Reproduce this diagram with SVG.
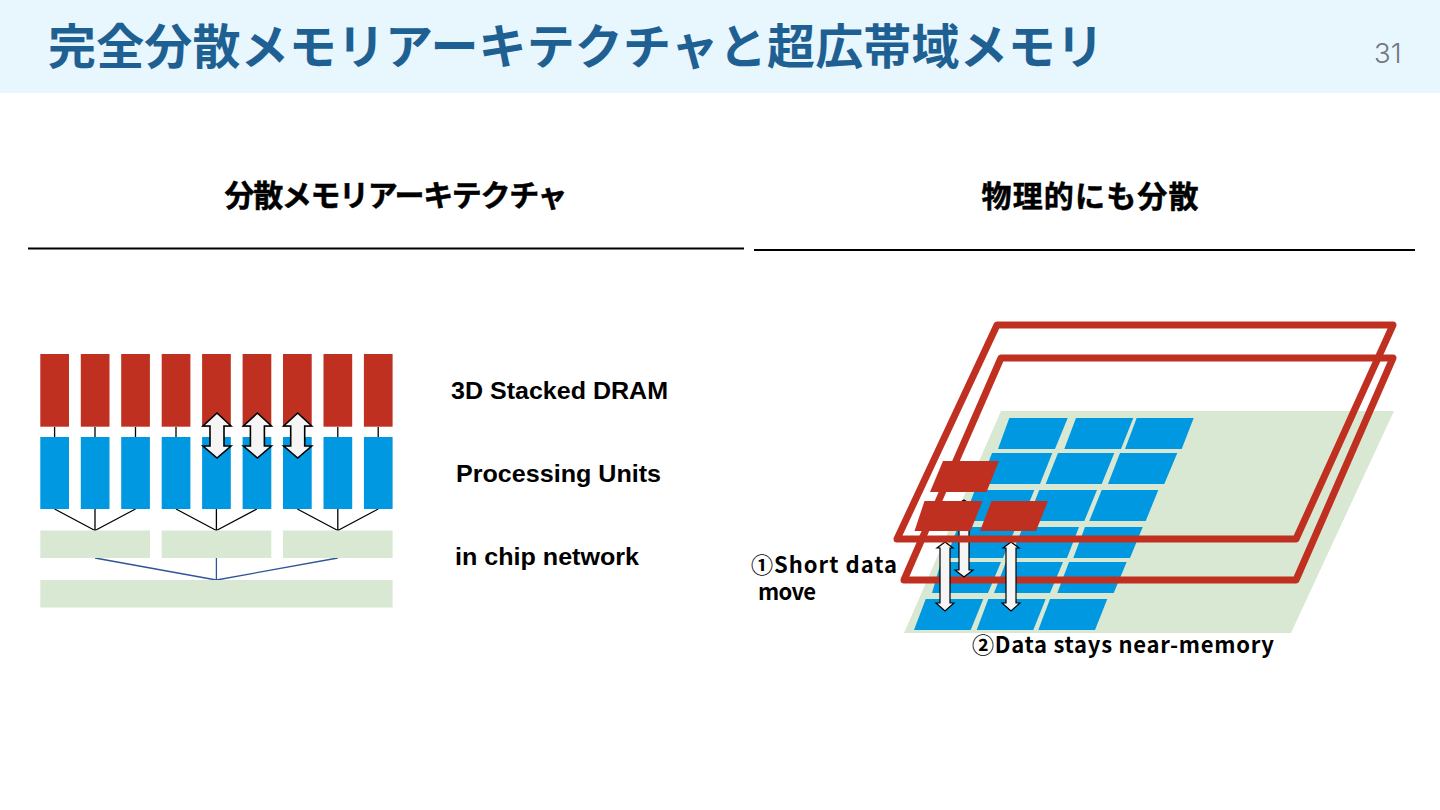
<svg xmlns="http://www.w3.org/2000/svg" width="1440" height="810" viewBox="0 0 1440 810">
<style>
.red{fill:#c03021}
.blue{fill:#0098e0}
.green{fill:#d9e8d3}
.tree{stroke:#000;stroke-width:1.3;fill:none}
.net{stroke:#2f5597;stroke-width:1.3;fill:none}
.frame{fill:none;stroke:#c03021;stroke-width:7;stroke-linejoin:round}
.arr{fill:#f5f5f5;stroke:#000;stroke-width:1.6;stroke-linejoin:miter}
.arr2{fill:#f5f5f5;stroke:#000;stroke-width:1.2}
.jp{font-family:"Noto Sans CJK JP","Noto Sans",sans-serif}
.head{font-size:30px;font-weight:700;fill:#000;stroke:#000;stroke-width:.5;text-anchor:middle}
.lab{font-family:"Liberation Sans",Arial,sans-serif;font-size:24.5px;font-weight:700;fill:#000}
.note{font-size:22px;font-weight:700;fill:#000}
.rule{stroke:#000;stroke-width:2}
</style>
<rect width="1440" height="810" fill="#fff"/>
<g id="header">
<rect width="1440" height="93" fill="#e8f6fe"/>
<text class="jp" x="48" y="64" font-size="48" font-weight="700" fill="#1f6093" textLength="1056" lengthAdjust="spacing">完全分散メモリアーキテクチャと超広帯域メモリ</text>
<text x="1374" y="63" font-family="Inter,'Liberation Sans',sans-serif" font-size="27.5" font-weight="300" fill="#6f7780">31</text>
</g>
<g id="headings">
<text class="jp head" x="396" y="206" textLength="343" lengthAdjust="spacing">分散メモリアーキテクチャ</text>
<text class="jp head" x="1090" y="207" textLength="217" lengthAdjust="spacing">物理的にも分散</text>
<line class="rule" x1="28" y1="248.5" x2="744" y2="248.5"/>
<line class="rule" x1="754" y1="250" x2="1415" y2="250"/>
</g>
<g id="connectors">
<path class="tree" d="M54.6 427V437M95 427V437M135.5 427V437M176 427V437M216.4 427V437M256.9 427V437M297.3 427V437M337.8 427V437M378.2 427V437"/>
<path class="tree" d="M54.6 509L95 530.5M95 509V530.5M135.5 509L95 530.5M176 509L216.4 530.5M216.4 509V530.5M256.9 509L216.4 530.5M297.3 509L337.8 530.5M337.8 509V530.5M378.2 509L337.8 530.5"/>
<path class="net" d="M95 558L216.4 580M216.4 558V580M337.8 558L216.4 580"/>
</g>
<g id="dram">
<rect class="red" x="40.3" y="354" width="28.7" height="72.7"/>
<rect class="red" x="80.8" y="354" width="28.7" height="72.7"/>
<rect class="red" x="121.2" y="354" width="28.7" height="72.7"/>
<rect class="red" x="161.7" y="354" width="28.7" height="72.7"/>
<rect class="red" x="202.1" y="354" width="28.7" height="72.7"/>
<rect class="red" x="242.6" y="354" width="28.7" height="72.7"/>
<rect class="red" x="283" y="354" width="28.7" height="72.7"/>
<rect class="red" x="323.5" y="354" width="28.7" height="72.7"/>
<rect class="red" x="363.9" y="354" width="28.7" height="72.7"/>
</g>
<g id="processing-units">
<rect class="blue" x="40.3" y="437" width="28.7" height="72"/>
<rect class="blue" x="80.8" y="437" width="28.7" height="72"/>
<rect class="blue" x="121.2" y="437" width="28.7" height="72"/>
<rect class="blue" x="161.7" y="437" width="28.7" height="72"/>
<rect class="blue" x="202.1" y="437" width="28.7" height="72"/>
<rect class="blue" x="242.6" y="437" width="28.7" height="72"/>
<rect class="blue" x="283" y="437" width="28.7" height="72"/>
<rect class="blue" x="323.5" y="437" width="28.7" height="72"/>
<rect class="blue" x="363.9" y="437" width="28.7" height="72"/>
</g>
<g id="network">
<rect class="green" x="40.3" y="530.5" width="109.7" height="27.5"/>
<rect class="green" x="161.7" y="530.5" width="109.6" height="27.5"/>
<rect class="green" x="283" y="530.5" width="109.6" height="27.5"/>
<rect class="green" x="40.3" y="580" width="352.3" height="27.5"/>
</g>
<g id="arrows-left">
<path class="arr" d="M217 413L231 426H224V446H231L217 458L203 446H210V426H203Z"/>
<path class="arr" d="M257.4 413L271.4 426H264.4V446H271.4L257.4 458L243.4 446H250.4V426H243.4Z"/>
<path class="arr" d="M297.7 413L311.7 426H304.7V446H311.7L297.7 458L283.7 446H290.7V426H283.7Z"/>
</g>
<g id="labels-left">
<text class="lab" x="451" y="399" textLength="217" lengthAdjust="spacingAndGlyphs">3D Stacked DRAM</text>
<text class="lab" x="456" y="482" textLength="205" lengthAdjust="spacingAndGlyphs">Processing Units</text>
<text class="lab" x="455" y="565" textLength="184" lengthAdjust="spacingAndGlyphs">in chip network</text>
</g>
<g id="plane">
<polygon class="green" points="1001,411 1394,411 1291,633 904,633"/>
</g>
<g id="cells">
<polygon class="blue" points="1009.3,418 1067.7,418 1055,449 998,449"/>
<polygon class="blue" points="1076,418 1133.3,418 1121,449 1064.3,449"/>
<polygon class="blue" points="1136.7,418 1193.7,418 1181.7,449 1125,449"/>
<polygon class="blue" points="992,453 1052.3,453 1040,484 980,484"/>
<polygon class="blue" points="1058,453 1114.3,453 1101.7,484 1045.7,484"/>
<polygon class="blue" points="1120,453 1177.3,453 1164.3,484 1108,484"/>
<polygon class="blue" points="975,490 1034.3,490 1021.7,521 963,521"/>
<polygon class="blue" points="1039.3,490 1097,490 1084.3,521 1027,521"/>
<polygon class="blue" points="1101.7,490 1158.3,490 1145.7,521 1089.3,521"/>
<polygon class="blue" points="958,527 1016,527 1003,558 946,558"/>
<polygon class="blue" points="1023,527 1079,527 1067,558 1010,558"/>
<polygon class="blue" points="1085,527 1142.7,527 1130,558 1073.3,558"/>
<polygon class="blue" points="941,562 1001,562 988,593 932,593"/>
<polygon class="blue" points="1006,562 1063,562 1050,593 994,593"/>
<polygon class="blue" points="1069,562 1126.7,562 1113.7,593 1057.3,593"/>
<polygon class="blue" points="925.7,599 983.3,599 970.7,630 914,630"/>
<polygon class="blue" points="988.3,599 1045.7,599 1033.3,630 976.7,630"/>
<polygon class="blue" points="1050,599 1107.3,599 1095,630 1038.3,630"/>
</g>
<g id="frame-lower">
<polygon class="frame" points="1001,358 1393,358 1296,580 904,580"/>
</g>
<g id="arrows-right">
<path class="arr2" d="M964 500L972 505H969V570H973L964 577L955 570H959V505H956Z"/>
<path class="arr2" d="M945 542L953 548H950V603H954L945 611L936 603H940V548H937Z"/>
<path class="arr2" d="M1011 542L1019 548H1016V603H1020L1011 611L1002 603H1006V548H1003Z"/>
</g>
<g id="frame-upper">
<polygon class="frame" points="997,325 1393,325 1296,539 897,539"/>
</g>
<g id="memory-blocks">
<polygon class="red" points="943,461 999,461 986.5,492 930,492"/>
<polygon class="red" points="924.5,501 982.5,501 970.5,531 914.5,531"/>
<polygon class="red" points="991.5,501 1048,501 1036,531 980,531"/>
</g>
<g id="labels-right">
<text class="jp note"><tspan x="751" y="573" textLength="146" lengthAdjust="spacing">①Short data</tspan><tspan x="758" y="600" textLength="58" lengthAdjust="spacing">move</tspan></text>
<text class="jp note" x="972" y="653" textLength="302" lengthAdjust="spacing">②Data stays near-memory</text>
</g>
</svg>
